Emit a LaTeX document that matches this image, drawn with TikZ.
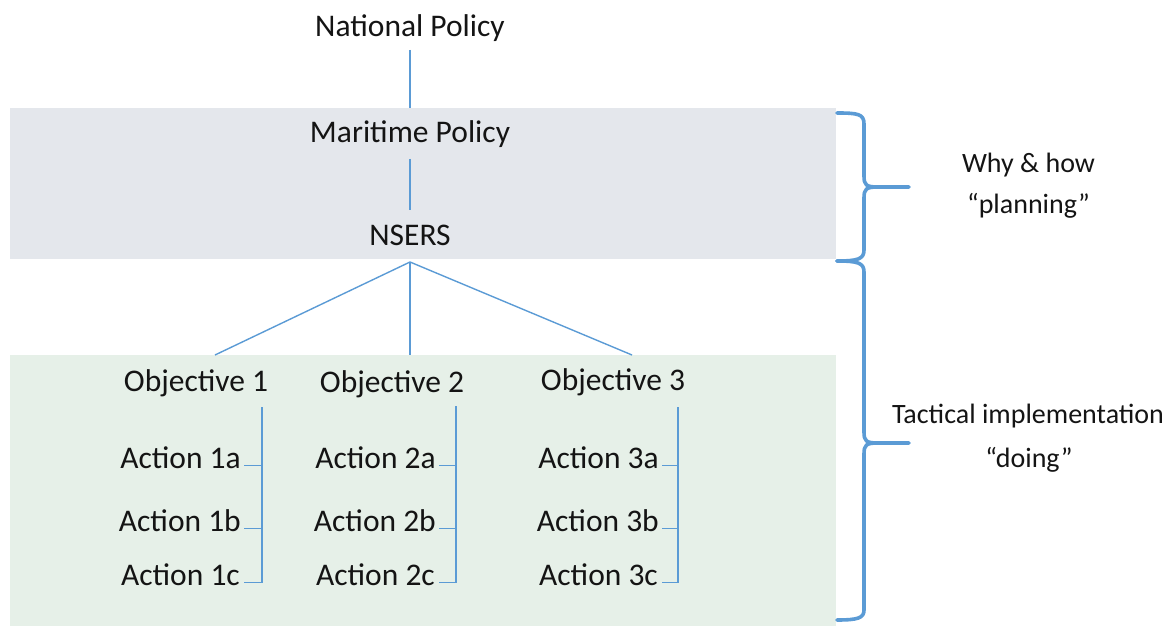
\documentclass[tikz,border=0pt]{standalone}
\usepackage{fontspec}
\setmainfont{Carlito}
\usetikzlibrary{calc}
\definecolor{graybg}{HTML}{E4E7EC}
\definecolor{greenbg}{HTML}{E6F0E8}
\definecolor{lineblue}{HTML}{5B9BD5}
\definecolor{txtc}{HTML}{141414}
\tikzset{
  lbl/.style={inner sep=0pt, text=txtc, font=\fontsize{31.5}{37}\selectfont},
  side/.style={inner sep=0pt, text=txtc, font=\fontsize{28}{33}\selectfont},
  conn/.style={draw=lineblue, line width=1.4pt},
  bracepath/.style={draw=lineblue, line width=3.6pt, line cap=round, line join=round},
  band/.style={inner sep=0pt, draw=none, minimum width=826pt}
}
\begin{document}
\begin{tikzpicture}[x=1pt,y=-1pt]
\useasboundingbox (0,0) rectangle (1170,628);
% bands
\node[band, fill=graybg, minimum height=151pt] (plan) at (423,183.5) {};
\node[band, fill=greenbg, minimum height=271pt] (do) at (423,490.5) {};
% top chain
\node[lbl, anchor=base] (nat) at (410,37) {National Policy};
\node[lbl, anchor=base] (mar) at (410,143) {Maritime Policy};
\node[lbl, anchor=base] (nsers) at (410,246) {NSERS};
\draw[conn] ($(nat.base)+(0,13)$) -- (nat.base |- plan.north);
\draw[conn] ($(mar.base)+(0,16)$) -- ($(nsers.base)+(0,-36)$);
\coordinate (split) at ($(nsers.base)+(0,16)$);
% objectives
\node[lbl, anchor=base] (obj1) at (196,391) {Objective 1};
\node[lbl, anchor=base] (obj2) at (392,392) {Objective 2};
\node[lbl, anchor=base] (obj3) at (613,390) {Objective 3};
\draw[conn] (split) -- ($(obj1.base)+(19,-36)$);
\draw[conn] (split) -- ($(obj2.base)+(18,-37)$);
\draw[conn] (split) -- ($(obj3.base)+(19,-35)$);
% actions
\node[lbl, anchor=base east] (a1a) at (241,468) {Action 1a};
\node[lbl, anchor=base east] (a1b) at (241,531) {Action 1b};
\node[lbl, anchor=base east] (a1c) at (240,585) {Action 1c};
\node[lbl, anchor=base east] (a2a) at (436,468) {Action 2a};
\node[lbl, anchor=base east] (a2b) at (436,531) {Action 2b};
\node[lbl, anchor=base east] (a2c) at (435,585) {Action 2c};
\node[lbl, anchor=base east] (a3a) at (659,468) {Action 3a};
\node[lbl, anchor=base east] (a3b) at (659,531) {Action 3b};
\node[lbl, anchor=base east] (a3c) at (658,585) {Action 3c};
\coordinate (b1) at (262,407);
\coordinate (b2) at (456,406);
\coordinate (b3) at (678,407);
\foreach \o/\b in {1/b1,2/b2,3/b3}{
  \draw[conn] (\b) -- (\b |- a\o c.mid) -- ($(a\o c.mid east)+(4,0)$);
  \draw[conn] ($(a\o a.mid east)+(3,0)$) -- (\b |- a\o a.mid);
  \draw[conn] ($(a\o b.mid east)+(3,0)$) -- (\b |- a\o b.mid);
}
% braces
\draw[bracepath] (837,113) .. controls (858,113) and (864,114) .. (864,124) -- (864,176)
  .. controls (864,185) and (866,187) .. (878,187) -- (909,187);
\draw[bracepath] (878,187) .. controls (866,187) and (864,189) .. (864,198) -- (864,250)
  .. controls (864,259) and (858,261) .. (837,261);
\draw[bracepath] (837,261) .. controls (858,261) and (864,263) .. (864,272) -- (864,432)
  .. controls (864,441) and (866,443) .. (878,443) -- (909,443);
\draw[bracepath] (878,443) .. controls (866,443) and (864,445) .. (864,454) -- (864,610)
  .. controls (864,618) and (858,620) .. (837,620);
% side labels
\node[side, anchor=base] (why1) at (1028.5,173) {Why \& how};
\node[side, anchor=base] (why2) at (1028.5,214) {“planning”};
\node[side, anchor=base] (tact1) at (1028,423) {Tactical implementation};
\node[side, anchor=base] (tact2) at (1029,467) {“doing”};
\end{tikzpicture}
\end{document}
